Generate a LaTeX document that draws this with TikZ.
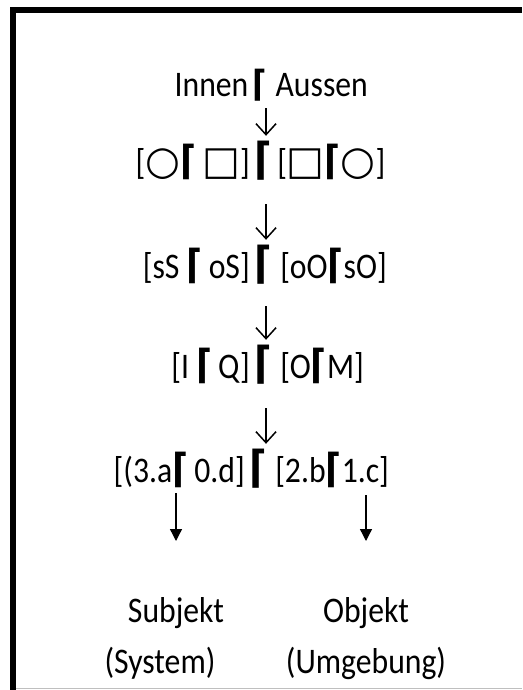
\documentclass[tikz,border=0pt]{standalone}
\usepackage{fontspec}
\setmainfont{Carlito}[FakeStretch=0.88]
\newfontfamily\symfont{DejaVu Sans}[FakeStretch=0.88]
\newfontfamily\geofont{DejaVu Sans}
\usetikzlibrary{positioning,arrows.meta}

% ceiling mark inside a term, and the shapes of row 2
\newcommand{\ce}{{\symfont\bfseries\fontsize{40}{40}\selectfont ⌈}}
\newcommand{\sq}{{\geofont\fontsize{40}{40}\selectfont □}}
\newcommand{\ci}{{\geofont\fontsize{40}{40}\selectfont ○}}

\begin{document}
\begin{tikzpicture}[
    x=1pt, y=-1pt,
    txt/.style = {inner sep=0pt, font=\fontsize{36}{40}\selectfont},
    bigce/.style = {inner sep=0pt, text height=36pt, text depth=6pt,
                    font=\symfont\bfseries\fontsize{44}{50}\selectfont},
    flow/.style = {-{Straight Barb[length=11pt,width=20pt]}, line width=1.5pt,
                   shorten <=#1, shorten >=2pt},
    leg/.style = {-{Triangle[length=12pt,width=12pt]}, line width=1.3pt}
]
    \useasboundingbox (0,0) rectangle (522,690);

    % Rahmen
    \draw[line width=6pt] (13,690) -- (13,10) -- (522,10);
    \draw[gray!50, line width=1.5pt] (16,688.5) -- (522,688.5);

    % Zeile 1
    \node[inner sep=0pt, text height=26pt, text depth=4pt,
          font=\symfont\bfseries\fontsize{36}{40}\selectfont, anchor=base] (c1) at (260,97) {⌈};
    \node[txt, anchor=base east] (l1) at ([xshift=-4pt]c1.base west) {Innen};
    \node[txt, anchor=base west] (r1) at ([xshift=8pt]c1.base east) {Aussen};

    % Zeile 2
    \node[bigce, anchor=base] (c2) at (263,174) {⌈};
    \node[txt, anchor=base east] (l2) at ([xshift=-4pt]c2.base west) {[\ci\ce\,\sq]};
    \node[txt, anchor=base west] (r2) at ([xshift=5pt]c2.base east) {[\sq\ce\ci]};

    % Zeile 3
    \node[bigce, anchor=base] (c3) at (263,278) {⌈};
    \node[txt, anchor=base east] (l3) at ([xshift=-4pt]c3.base west) {[sS \ce\,oS]};
    \node[txt, anchor=base west] (r3) at ([xshift=8pt]c3.base east) {[oO\ce sO]};

    % Zeile 4
    \node[bigce, anchor=base] (c4) at (263,378) {⌈};
    \node[txt, anchor=base east] (l4) at ([xshift=-4pt]c4.base west) {[I \ce\,Q]};
    \node[txt, anchor=base west] (r4) at ([xshift=8pt]c4.base east) {[O\ce M]};

    % Zeile 5
    \node[bigce, anchor=base] (c5) at (258,482) {⌈};
    \node[txt, anchor=base east] (l5) at ([xshift=-4pt]c5.base west) {[(3.a\ce\,0.d]};
    \node[txt, anchor=base west] (r5) at ([xshift=8pt]c5.base east) {[2.b\ce 1.c]};

    % Pfeile zwischen den Zeilen
    \draw[flow=7pt]  (c1.south -| 266,0) -- (c2.north -| 266,0);
    \draw[flow=24pt] (c2.south -| 266,0) -- (c3.north -| 266,0);
    \draw[flow=22pt] (c3.south -| 266,0) -- (c4.north -| 266,0);
    \draw[flow=24pt] (c4.south -| 266,0) -- (c5.north -| 266,0);

    % Subjekt / Objekt
    \node[txt, anchor=base] (sub) at (176,622) {Subjekt};
    \node[txt, anchor=base] (sys) at (160,673) {(System)};
    \node[txt, anchor=base] (obj) at (366,622) {Objekt};
    \node[txt, anchor=base] (umg) at (366,673) {(Umgebung)};

    \coordinate (ls) at (176,493);
    \coordinate (lo) at (366,495);
    \draw[leg] (ls) -- (sub.north |- 0,541);
    \draw[leg] (lo) -- (obj.north |- 0,541);

\end{tikzpicture}
\end{document}
